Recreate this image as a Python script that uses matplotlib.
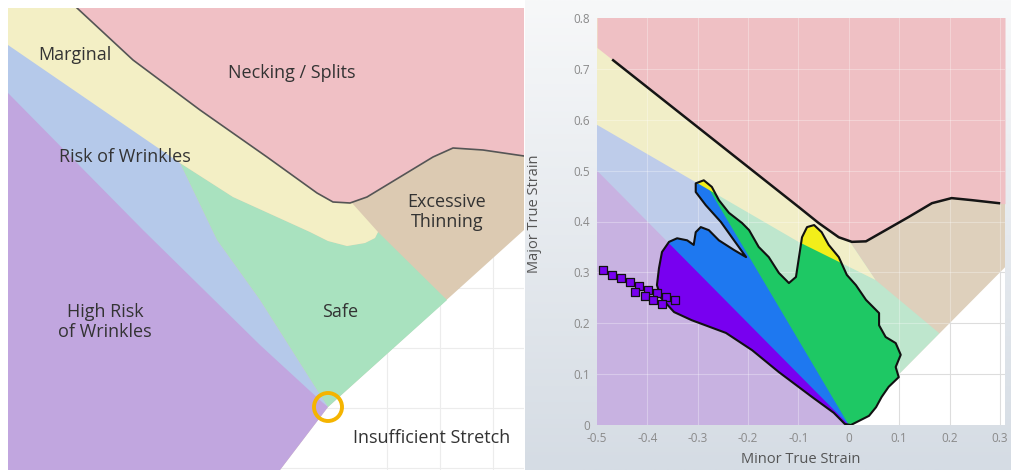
import numpy as np
import matplotlib.pyplot as plt
from matplotlib.patches import Polygon, Circle
from matplotlib.colors import LinearSegmentedColormap

# ---------------- left panel: schematic forming limit zones (pixel-like units, y down)
schem_flc_x = [77, 133, 200, 267, 317, 333, 350, 367, 400, 433, 453, 483, 524]
schem_flc_y = [8, 60, 110, 157, 193, 202, 203, 197, 177, 157, 148, 150, 156]
schem_upper = [(8, 8), (524, 8), (524, 230), (328, 407), (280, 470), (8, 470)]
schem_safe = [(328, 407), (317, 390), (260, 300), (217, 240), (180, 163), (233, 197),
              (310, 232), (328, 241), (347, 246), (365, 243), (375, 238), (378, 232), (447, 300)]
schem_wrinkle = [(8, 8), (180, 163), (217, 240), (260, 300), (317, 390), (328, 407), (8, 407)]
schem_marginal = [(8, 8), (352, 8), (352, 203), (378, 232), (375, 238), (365, 243), (347, 246),
                  (328, 241), (310, 232), (233, 197), (180, 163), (8, 45)]
schem_high = [(8, 93), (143, 230), (260, 345), (322, 402), (328, 407), (280, 470), (8, 470)]
schem_origin = (328, 407)
schem_labels = ["Marginal", "Necking / Splits", "Risk of Wrinkles", "Excessive\nThinning",
                "Safe", "High Risk\nof Wrinkles", "Insufficient Stretch"]
schem_label_pos = [(75, 55), (292, 73), (125, 157), (447, 212), (340, 312), (105, 322), (432, 438)]

# ---------------- right panel: measured FLD
flc_minor = [-0.468, -0.099, -0.060, -0.020, 0.006, 0.034, 0.073, 0.119, 0.165, 0.204, 0.244, 0.298]
flc_major = [0.717, 0.428, 0.397, 0.369, 0.360, 0.361, 0.383, 0.409, 0.436, 0.446, 0.442, 0.436]
neck_minor = [-0.5] + flc_minor + [0.31]
neck_major = [0.742] + flc_major + [0.435]
marg_minor = [-0.5, -0.1, 0.053]
marg_major = [0.59, 0.36, 0.285]
thin_minor = [0.0, 0.053, 0.18]
thin_major = [0.363, 0.285, 0.18]
risk_minor = [-0.5, 0.0]
risk_major = [0.835, 0.0]
high_minor = [-0.5, 0.0]
high_major = [0.5, 0.0]
stretch_minor = [0.0, 0.31]
stretch_major = [0.0, 0.31]

cloud_minor = [0.004, 0.024, 0.040, 0.054, 0.065, 0.079, 0.099, 0.093, 0.103, 0.093, 0.073, 0.060,
               0.060, 0.034, 0.014, -0.004, -0.020, -0.040, -0.054, -0.069, -0.083, -0.093, -0.099,
               -0.105, -0.119, -0.139, -0.159, -0.179, -0.198, -0.212, -0.238, -0.258, -0.272,
               -0.288, -0.304, -0.304, -0.284, -0.254, -0.228, -0.204, -0.228, -0.258, -0.278,
               -0.294, -0.304, -0.308, -0.321, -0.341, -0.357, -0.371, -0.377, -0.381, -0.373,
               -0.347, -0.312, -0.244, -0.192, -0.139, -0.073, -0.030, -0.008]
cloud_major = [0.000, 0.010, 0.018, 0.035, 0.055, 0.075, 0.094, 0.114, 0.138, 0.161, 0.173, 0.196,
               0.220, 0.246, 0.275, 0.295, 0.330, 0.354, 0.379, 0.393, 0.389, 0.369, 0.330,
               0.291, 0.279, 0.299, 0.330, 0.350, 0.383, 0.397, 0.417, 0.442, 0.468,
               0.481, 0.475, 0.458, 0.432, 0.399, 0.363, 0.330, 0.344, 0.363, 0.383,
               0.389, 0.379, 0.354, 0.363, 0.367, 0.360, 0.340, 0.308, 0.275, 0.250,
               0.222, 0.206, 0.181, 0.147, 0.104, 0.055, 0.024, 0.002]
stray_minor = [-0.488, -0.470, -0.452, -0.434, -0.416, -0.398, -0.381, -0.364, -0.346,
               -0.425, -0.405, -0.388, -0.370]
stray_major = [0.305, 0.295, 0.288, 0.281, 0.273, 0.266, 0.259, 0.252, 0.245,
               0.262, 0.254, 0.246, 0.238]

xticks = [-0.5, -0.4, -0.3, -0.2, -0.1, 0.0, 0.1, 0.2, 0.3]
xtick_labels = ["-0.5", "-0.4", "-0.3", "-0.2", "-0.1", "0", "0.1", "0.2", "0.3"]
yticks = [0.0, 0.1, 0.2, 0.3, 0.4, 0.5, 0.6, 0.7, 0.8]
ytick_labels = ["0", "0.1", "0.2", "0.3", "0.4", "0.5", "0.6", "0.7", "0.8"]

# colours
L_PINK, L_YEL, L_BLUE, L_PUR, L_GRN, L_BEI = "#f0c0c5", "#f3efc5", "#b5c9ea", "#c1a6df", "#a9e2bf", "#dccab2"
R_PINK, R_YEL, R_BLUE, R_PUR, R_GRN, R_BEI = "#efc0c4", "#f1eec8", "#beccea", "#c8b2e1", "#bee6cd", "#ded0bc"
D_GRN, D_BLUE, D_PUR, D_YEL = "#1ec864", "#1e78f0", "#7800f0", "#f2ee1a"

plt.rcParams['font.family'] = ['Open Sans', 'DejaVu Sans']

fig = plt.figure(figsize=(10.12, 4.70), dpi=100)
fig.patch.set_facecolor("white")

# ---------------- left panel
axl = fig.add_axes([8 / 1012, 0, (524 - 8) / 1012, (470 - 8) / 470])
axl.set_xlim(8, 524)
axl.set_ylim(470, 8)
axl.axis("off")
for gx in [387, 440, 493]:
    axl.plot([gx, gx], [8, 470], color="#ececec", lw=0.8, zorder=0)
for gy in [288, 348, 408, 468]:
    axl.plot([8, 524], [gy, gy], color="#ececec", lw=0.8, zorder=0)

axl.add_patch(Polygon(schem_upper, closed=True, fc=L_BEI, ec="none", zorder=1))
axl.add_patch(Polygon(schem_safe, closed=True, fc=L_GRN, ec="none", zorder=2))
axl.add_patch(Polygon(schem_wrinkle, closed=True, fc=L_BLUE, ec="none", zorder=3))
axl.add_patch(Polygon(schem_marginal, closed=True, fc=L_YEL, ec="none", zorder=4))
axl.add_patch(Polygon(list(zip(schem_flc_x, schem_flc_y)) + [(524, 8)], closed=True,
                      fc=L_PINK, ec="none", zorder=5))
axl.add_patch(Polygon(schem_high, closed=True, fc=L_PUR, ec="none", zorder=6))
axl.plot(schem_flc_x, schem_flc_y, color="#555555", lw=1.2, zorder=7)
axl.add_patch(Circle(schem_origin, 14, fc="none", ec="#f5b400", lw=2.8, zorder=8))
for lab, (tx, ty) in zip(schem_labels, schem_label_pos):
    axl.text(tx, ty, lab, ha="center", va="center", fontsize=13, color="#333333",
             linespacing=1.2, zorder=9)

# ---------------- right panel background gradient
axbg = fig.add_axes([525 / 1012, 0, 487 / 1012, 1])
grad = np.linspace(0, 1, 256).reshape(-1, 1)
cmap_bg = LinearSegmentedColormap.from_list("bg", ["#f7f8f9", "#d5dce4"])
axbg.imshow(grad, aspect="auto", cmap=cmap_bg, extent=[0, 1, 0, 1], origin="upper")
axbg.axis("off")

# ---------------- right panel FLD
ax = fig.add_axes([597 / 1012, 45 / 470, (1005 - 597) / 1012, (425 - 18) / 470])
ax.set_xlim(-0.5, 0.31)
ax.set_ylim(0, 0.8)
ax.set_facecolor(R_BEI)

top = 0.9
green_zone = [(risk_minor[1], risk_major[1]), (risk_minor[0], risk_major[0]), (-0.5, top), (0.0, top)] \
    + list(zip(thin_minor, thin_major))
blue_zone = [(risk_minor[1], risk_major[1]), (risk_minor[0], risk_major[0]), (-0.5, 0.0)]
yellow_zone = [(-0.5, top), (0.0, top)] + list(zip(thin_minor[:2], thin_major[:2])) \
    + list(zip(marg_minor[:2], marg_major[:2]))[::-1]
purple_zone = [(high_minor[1], high_major[1]), (high_minor[0], high_major[0]), (-0.5, 0.0)]
white_zone = [(stretch_minor[0], stretch_major[0]), (stretch_minor[1], stretch_major[1]), (0.31, 0.0)]

ax.add_patch(Polygon(green_zone, closed=True, fc=R_GRN, ec="none", zorder=1))
ax.add_patch(Polygon(blue_zone, closed=True, fc=R_BLUE, ec="none", zorder=1.1))
ax.add_patch(Polygon(yellow_zone, closed=True, fc=R_YEL, ec="none", zorder=1.2))
ax.fill_between(neck_minor, neck_major, top, color=R_PINK, lw=0, zorder=1.3)
ax.add_patch(Polygon(purple_zone, closed=True, fc=R_PUR, ec="none", zorder=1.4))
white_patch = Polygon(white_zone, closed=True, fc="white", ec="none", zorder=1.5)
ax.add_patch(white_patch)

# grid: faint light lines over colours, grey lines in the white wedge
for gx in xticks[1:]:
    ax.axvline(gx, color="white", lw=0.8, alpha=0.3, zorder=1.6)
    ln = ax.axvline(gx, color="#dddddd", lw=0.8, zorder=1.7)
    ln.set_clip_path(white_patch)
for gy in yticks[1:-1]:
    ax.axhline(gy, color="white", lw=0.8, alpha=0.3, zorder=1.6)
    ln = ax.axhline(gy, color="#dddddd", lw=0.8, zorder=1.7)
    ln.set_clip_path(white_patch)

# FLC
ax.plot(flc_minor, flc_major, color="#151515", lw=1.8, zorder=3)

# measured strain cloud, coloured by zone
cloud = Polygon(list(zip(cloud_minor, cloud_major)), closed=True, fc=D_GRN, ec="none", zorder=4)
ax.add_patch(cloud)
for poly, col, z in [(blue_zone, D_BLUE, 4.1), (yellow_zone, D_YEL, 4.2), (purple_zone, D_PUR, 4.3)]:
    p = Polygon(poly, closed=True, fc=col, ec="none", zorder=z)
    ax.add_patch(p)
    p.set_clip_path(cloud)
ax.add_patch(Polygon(list(zip(cloud_minor, cloud_major)), closed=True, fc="none", ec="#111111",
                     lw=1.5, joinstyle="round", zorder=5))
ax.scatter(stray_minor, stray_major, marker="s", s=38, c=D_PUR, edgecolors="#111111",
           linewidths=0.9, zorder=5)

for s in ax.spines.values():
    s.set_visible(False)
ax.set_xticks(xticks)
ax.set_xticklabels(xtick_labels)
ax.set_yticks(yticks)
ax.set_yticklabels(ytick_labels)
ax.tick_params(length=0, labelsize=8.5, labelcolor="#8a8a8a", pad=5)
ax.set_xlabel("Minor True Strain", fontsize=10.5, color="#555555")
ax.set_ylabel("Major True Strain", fontsize=10.5, color="#555555")
ax.xaxis.set_label_coords(0.5, -0.066)
ax.yaxis.set_label_coords(-0.135, 0.52)

fig.savefig("out.png", dpi=100)
